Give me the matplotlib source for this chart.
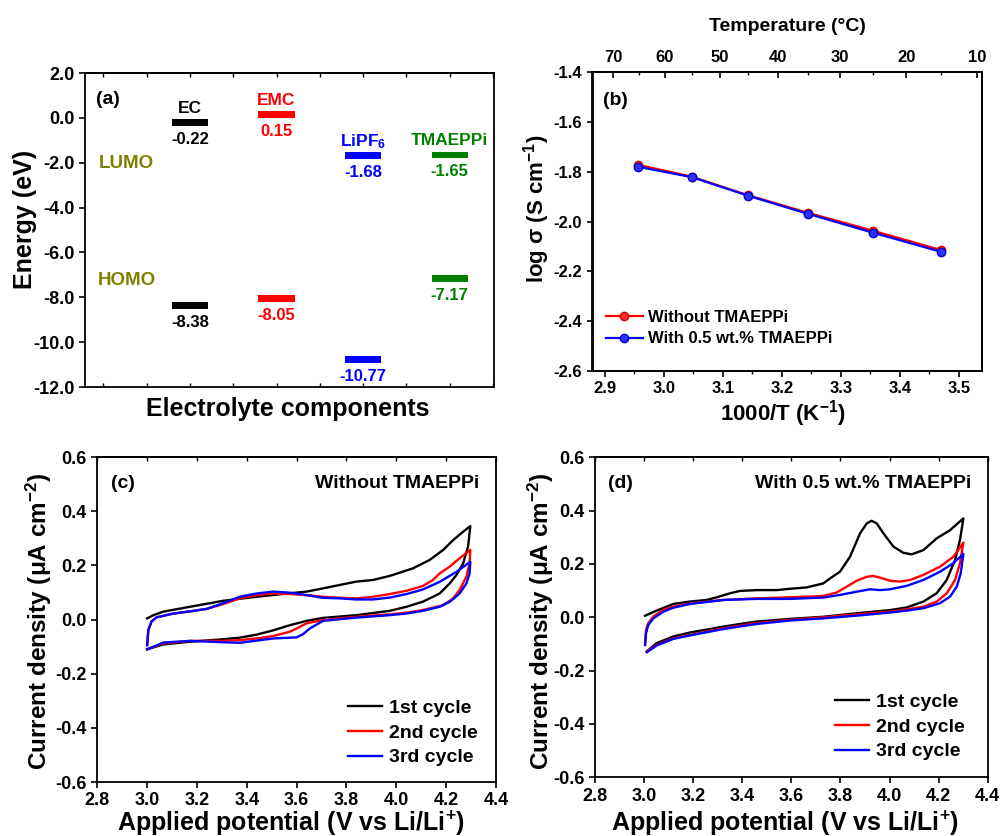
import matplotlib
matplotlib.use("Agg")
import matplotlib.pyplot as plt
from matplotlib.ticker import MultipleLocator, FormatStrFormatter, FixedLocator

plt.rcParams['font.family'] = ['Liberation Sans', 'DejaVu Sans']
plt.rcParams['font.weight'] = 'bold'
plt.rcParams['axes.labelweight'] = 'bold'
plt.rcParams['axes.unicode_minus'] = False
plt.rcParams['mathtext.fontset'] = 'custom'
plt.rcParams['mathtext.rm'] = 'Liberation Sans:bold'
plt.rcParams['mathtext.it'] = 'Liberation Sans:bold'
plt.rcParams['mathtext.bf'] = 'Liberation Sans:bold'
plt.rcParams['mathtext.default'] = 'rm'

# ---------------- Panel (a) data ----------------
components = ['EC', 'EMC', r'LiPF$_{6}$', 'TMAEPPi']
comp_pos = [1, 2, 3, 4]
lumo = [-0.22, 0.15, -1.68, -1.65]
homo = [-8.38, -8.05, -10.77, -7.17]
comp_colors = ['#000000', '#FF0000', '#0000FF', '#008000']
a_yticks = [-12, -10, -8, -6, -4, -2, 0, 2]

# ---------------- Panel (b) data ----------------
inv_T = [2.957, 3.047, 3.143, 3.245, 3.354, 3.470]
log_sigma_without = [-1.772, -1.819, -1.894, -1.965, -2.036, -2.114]
log_sigma_with = [-1.780, -1.821, -1.896, -1.969, -2.044, -2.121]
temp_ticks_C = [70, 60, 50, 40, 30, 20, 10]
temp_minor_C = [65, 55, 45, 35, 25, 15]

# ---------------- Panel (c) data (without TMAEPPi) ----------------
c1_E = [3.000, 3.025, 3.065, 3.172, 3.305, 3.439, 3.573, 3.640, 3.706, 3.840, 3.907, 3.974,
        4.067, 4.134, 4.188, 4.228, 4.268, 4.297,
        4.288, 4.268, 4.241, 4.214, 4.174, 4.107, 4.041, 3.974, 3.840, 3.706, 3.640, 3.573,
        3.506, 3.439, 3.372, 3.305, 3.172, 3.065, 3.000]
c1_j = [0.004, 0.016, 0.029, 0.047, 0.069, 0.084, 0.097, 0.103, 0.115, 0.140, 0.146, 0.161,
        0.189, 0.220, 0.257, 0.293, 0.324, 0.345,
        0.269, 0.207, 0.164, 0.133, 0.096, 0.066, 0.047, 0.032, 0.016, 0.006, -0.005, -0.021,
        -0.040, -0.056, -0.067, -0.073, -0.082, -0.092, -0.110]
c2_E = [3.000, 3.005, 3.018, 3.038, 3.105, 3.172, 3.238, 3.305, 3.372, 3.439, 3.506, 3.573,
        3.640, 3.706, 3.773, 3.840, 3.907, 3.974, 4.041, 4.107, 4.147, 4.174, 4.214, 4.254, 4.297,
        4.294, 4.281, 4.254, 4.228, 4.188, 4.107, 4.041, 3.974, 3.840, 3.706, 3.640, 3.600,
        3.573, 3.506, 3.439, 3.372, 3.305, 3.172, 3.065, 3.000]
c2_j = [-0.095, -0.038, -0.007, 0.008, 0.022, 0.030, 0.039, 0.057, 0.078, 0.090, 0.096, 0.094,
        0.090, 0.084, 0.080, 0.078, 0.084, 0.094, 0.106, 0.124, 0.146, 0.170, 0.195, 0.226, 0.257,
        0.207, 0.158, 0.109, 0.078, 0.053, 0.035, 0.025, 0.019, 0.010, -0.002, -0.014, -0.033,
        -0.045, -0.061, -0.070, -0.076, -0.079, -0.079, -0.088, -0.110]
c3_E = [3.000, 3.005, 3.018, 3.038, 3.105, 3.172, 3.238, 3.305, 3.372, 3.439, 3.506, 3.573,
        3.640, 3.706, 3.773, 3.840, 3.907, 3.974, 4.041, 4.107, 4.174, 4.241, 4.297,
        4.294, 4.281, 4.254, 4.214, 4.174, 4.107, 4.041, 3.974, 3.840, 3.706, 3.653, 3.626,
        3.600, 3.506, 3.372, 3.305, 3.172, 3.065, 3.000]
c3_j = [-0.095, -0.038, -0.007, 0.008, 0.022, 0.030, 0.039, 0.060, 0.084, 0.096, 0.103, 0.099,
        0.090, 0.080, 0.078, 0.074, 0.074, 0.081, 0.094, 0.111, 0.139, 0.176, 0.213,
        0.170, 0.133, 0.096, 0.065, 0.047, 0.032, 0.022, 0.016, 0.007, -0.005, -0.033, -0.054,
        -0.066, -0.070, -0.086, -0.084, -0.079, -0.085, -0.110]

# ---------------- Panel (d) data (with 0.5 wt.% TMAEPPi) ----------------
d1_E = [3.004, 3.051, 3.119, 3.187, 3.255, 3.296, 3.350, 3.391, 3.459, 3.540, 3.595, 3.662,
        3.730, 3.758, 3.798, 3.839, 3.880, 3.907, 3.927, 3.948, 3.975, 4.016, 4.056, 4.090,
        4.138, 4.192, 4.247, 4.301,
        4.287, 4.267, 4.233, 4.192, 4.138, 4.070, 4.002, 3.866, 3.730, 3.595, 3.459, 3.391,
        3.323, 3.187, 3.119, 3.051, 3.011]
d1_j = [0.006, 0.025, 0.050, 0.059, 0.065, 0.075, 0.090, 0.099, 0.102, 0.102, 0.107, 0.112,
        0.127, 0.146, 0.171, 0.227, 0.315, 0.352, 0.362, 0.352, 0.315, 0.265, 0.242, 0.236,
        0.252, 0.296, 0.327, 0.371,
        0.290, 0.215, 0.140, 0.090, 0.059, 0.037, 0.027, 0.015, 0.002, -0.006, -0.016, -0.025,
        -0.035, -0.057, -0.072, -0.097, -0.128]
d2_E = [3.004, 3.008, 3.017, 3.038, 3.078, 3.119, 3.187, 3.323, 3.459, 3.595, 3.730, 3.785,
        3.826, 3.866, 3.907, 3.934, 3.961, 4.002, 4.043, 4.084, 4.138, 4.206, 4.260, 4.301,
        4.287, 4.267, 4.233, 4.192, 4.138, 4.070, 4.002, 3.866, 3.730, 3.595, 3.459, 3.323,
        3.187, 3.119, 3.051, 3.011]
d2_j = [-0.097, -0.047, -0.022, 0.003, 0.028, 0.040, 0.052, 0.065, 0.071, 0.075, 0.080, 0.093,
        0.115, 0.137, 0.152, 0.155, 0.149, 0.137, 0.134, 0.140, 0.159, 0.190, 0.227, 0.280,
        0.203, 0.140, 0.090, 0.059, 0.040, 0.030, 0.021, 0.011, 0.000, -0.010, -0.022, -0.041,
        -0.066, -0.079, -0.104, -0.128]
d3_E = [3.004, 3.008, 3.017, 3.038, 3.078, 3.119, 3.187, 3.323, 3.459, 3.595, 3.730, 3.798,
        3.866, 3.920, 3.961, 4.002, 4.070, 4.138, 4.206, 4.260, 4.301,
        4.290, 4.274, 4.247, 4.206, 4.138, 4.070, 4.002, 3.866, 3.730, 3.595, 3.459, 3.323,
        3.187, 3.119, 3.051, 3.011]
d3_j = [-0.104, -0.060, -0.029, -0.004, 0.021, 0.036, 0.050, 0.065, 0.069, 0.069, 0.074, 0.084,
        0.096, 0.105, 0.102, 0.105, 0.118, 0.140, 0.171, 0.203, 0.238,
        0.165, 0.115, 0.078, 0.053, 0.034, 0.025, 0.018, 0.006, -0.004, -0.012, -0.025, -0.044,
        -0.068, -0.081, -0.106, -0.131]

cycle_labels = ['1st cycle', '2nd cycle', '3rd cycle']
cycle_colors = ['#000000', '#FF0000', '#0000FF']

fig = plt.figure(figsize=(10.02, 8.36), dpi=100)
W, H = 1002.0, 836.0

def add_ax(l, r, t, b):
    return fig.add_axes([l / W, 1 - b / H, (r - l) / W, (b - t) / H])

ax_a = add_ax(85, 494, 73, 387)
ax_b = add_ax(592.5, 981.7, 72.3, 371)
ax_c = add_ax(97.3, 496, 457, 782)
ax_d = add_ax(595, 987.7, 457.3, 777.3)

for ax in (ax_a, ax_b, ax_c, ax_d):
    for s in ax.spines.values():
        s.set_linewidth(1.3)

def top_inward_ticks(ax, step, length=3):
    sec = ax.secondary_xaxis('top')
    sec.xaxis.set_major_locator(MultipleLocator(step))
    sec.tick_params(axis='x', direction='in', length=length, width=1, labeltop=False)
    sec.spines['top'].set_linewidth(1.3)
    return sec

# ---------------- Panel (a) ----------------
bar_h = 0.3
bar_w = 0.42
for xp, name, lu, ho, col in zip(comp_pos, components, lumo, homo, comp_colors):
    ax_a.bar(xp, bar_h, bottom=lu - bar_h / 2, width=bar_w, color=col)
    ax_a.bar(xp, bar_h, bottom=ho - bar_h / 2, width=bar_w, color=col)
    ax_a.text(xp, lu + 0.62, name, color=col, ha='center', va='center', fontsize=12.5, fontweight='bold')
    ax_a.text(xp, lu - 0.76, f'{lu:.2f}', color=col, ha='center', va='center', fontsize=12, fontweight='bold')
    ax_a.text(xp, ho - 0.76, f'{ho:.2f}', color=col, ha='center', va='center', fontsize=12, fontweight='bold')
ax_a.text(0.27, -2.05, 'LUMO', color='#808000', ha='center', va='center', fontsize=13.5, fontweight='bold')
ax_a.text(0.27, -7.27, 'HOMO', color='#808000', ha='center', va='center', fontsize=13.5, fontweight='bold')
ax_a.text(-0.085, 0.84, '(a)', ha='left', va='center', fontsize=14, fontweight='bold')
ax_a.set_xlim(-0.21, 4.51)
ax_a.set_ylim(-12, 2)
ax_a.set_yticks(a_yticks)
ax_a.yaxis.set_major_formatter(FormatStrFormatter('%.1f'))
ax_a.xaxis.set_major_locator(MultipleLocator(0.5))
ax_a.tick_params(axis='x', direction='in', length=3, width=1, labelbottom=False)
ax_a.tick_params(axis='y', direction='out', length=4, width=1.2, labelsize=13)
top_inward_ticks(ax_a, 0.5)
ax_a.set_ylabel('Energy (eV)', fontsize=18, fontweight='bold')
ax_a.yaxis.set_label_coords(-0.147, 0.535)
ax_a.set_xlabel('Electrolyte components', fontsize=18, fontweight='bold')
ax_a.xaxis.set_label_coords(0.495, -0.071)
ax_a.xaxis.label.set_va('center')
ax_a.yaxis.label.set_va('center')

# ---------------- Panel (b) ----------------
ax_b.plot(inv_T, log_sigma_without, '-o', color='#FF0000', lw=1.6, ms=6,
          mfc='#FF3030', mec='#E00000', label='Without TMAEPPi')
ax_b.plot(inv_T, log_sigma_with, '-o', color='#0000FF', lw=1.6, ms=6,
          mfc='#3030FF', mec='#0000D0', label='With 0.5 wt.% TMAEPPi')
ax_b.set_xlim(2.879, 3.539)
ax_b.set_ylim(-2.6, -1.4)
ax_b.xaxis.set_major_locator(MultipleLocator(0.1))
ax_b.xaxis.set_minor_locator(MultipleLocator(0.05))
ax_b.yaxis.set_major_locator(MultipleLocator(0.2))
ax_b.xaxis.set_major_formatter(FormatStrFormatter('%.1f'))
ax_b.yaxis.set_major_formatter(FormatStrFormatter('%.1f'))
ax_b.tick_params(axis='both', which='major', direction='out', length=4, width=1.2, labelsize=12)
ax_b.tick_params(axis='x', which='minor', direction='out', length=2.5, width=1)
ax_b.set_xlabel('1000/T (K$^{-1}$)', fontsize=16, fontweight='bold')
ax_b.xaxis.set_label_coords(0.49, -0.142)
ax_b.xaxis.label.set_va('center')
ax_b.set_ylabel('log σ (S cm$^{-1}$)', fontsize=16, fontweight='bold')
ax_b.yaxis.set_label_coords(-0.143, 0.542)
ax_b.yaxis.label.set_va('center')
ax_b.text(0.058, 0.907, '(b)', transform=ax_b.transAxes, ha='center', va='center',
          fontsize=14, fontweight='bold')
ax_b.legend(loc='center left', bbox_to_anchor=(0.035, 0.143), frameon=False, fontsize=12,
            handlelength=2.2, handletextpad=0.3, labelspacing=0.38, borderaxespad=0, borderpad=0)
ax_b2 = ax_b.twiny()
ax_b2.set_xlim(ax_b.get_xlim())
ax_b2.xaxis.set_major_locator(FixedLocator([1000.0 / (t + 273.15) for t in temp_ticks_C]))
ax_b2.xaxis.set_minor_locator(FixedLocator([1000.0 / (t + 273.15) for t in temp_minor_C]))
ax_b2.set_xticklabels([str(t) for t in temp_ticks_C])
ax_b2.tick_params(axis='x', which='major', direction='in', length=4, width=1.2, labelsize=12, pad=5)
ax_b2.tick_params(axis='x', which='minor', direction='in', length=2.5, width=1)
ax_b2.set_xlabel('Temperature (°C)', fontsize=14, fontweight='bold')
ax_b2.xaxis.set_label_coords(0.501, 1.155)
ax_b2.xaxis.label.set_va('center')
for s in ax_b2.spines.values():
    s.set_linewidth(1.3)

# ---------------- Panels (c) and (d) ----------------
def cv_panel(ax, series, tag, title, leg_anchor, ylab_xy, xlab_xy):
    for (E, j), lab, col in zip(series, cycle_labels, cycle_colors):
        ax.plot(E, j, color=col, lw=1.7, label=lab)
    ax.set_xlim(2.8, 4.4)
    ax.set_ylim(-0.6, 0.6)
    ax.xaxis.set_major_locator(MultipleLocator(0.2))
    ax.yaxis.set_major_locator(MultipleLocator(0.2))
    ax.xaxis.set_major_formatter(FormatStrFormatter('%.1f'))
    ax.yaxis.set_major_formatter(FormatStrFormatter('%.1f'))
    ax.tick_params(axis='both', direction='out', length=4, width=1.2, labelsize=13)
    top_inward_ticks(ax, 0.2)
    ax.set_xlabel('Applied potential (V vs Li/Li$^{+}$)', fontsize=18, fontweight='bold')
    ax.xaxis.set_label_coords(*xlab_xy)
    ax.xaxis.label.set_va('center')
    ax.set_ylabel('Current density (μA cm$^{-2}$)', fontsize=17.5, fontweight='bold')
    ax.yaxis.set_label_coords(*ylab_xy)
    ax.yaxis.label.set_va('center')
    ax.text(0.065, 0.919, tag, transform=ax.transAxes, ha='center', va='center',
            fontsize=14, fontweight='bold')
    ax.text(0.958, 0.919, title, transform=ax.transAxes, ha='right', va='center',
            fontsize=14, fontweight='bold')
    ax.legend(loc='center left', bbox_to_anchor=leg_anchor, frameon=False, fontsize=14,
              handlelength=1.75, handletextpad=0.35, labelspacing=0.36, borderaxespad=0, borderpad=0)

cv_panel(ax_c, [(c1_E, c1_j), (c2_E, c2_j), (c3_E, c3_j)], '(c)', 'Without TMAEPPi',
         (0.629, 0.151), (-0.146, 0.493), (0.485, -0.127))
cv_panel(ax_d, [(d1_E, d1_j), (d2_E, d2_j), (d3_E, d3_j)], '(d)', 'With 0.5 wt.% TMAEPPi',
         (0.611, 0.157), (-0.139, 0.486), (0.485, -0.143))

fig.savefig('out.png', dpi=100)
